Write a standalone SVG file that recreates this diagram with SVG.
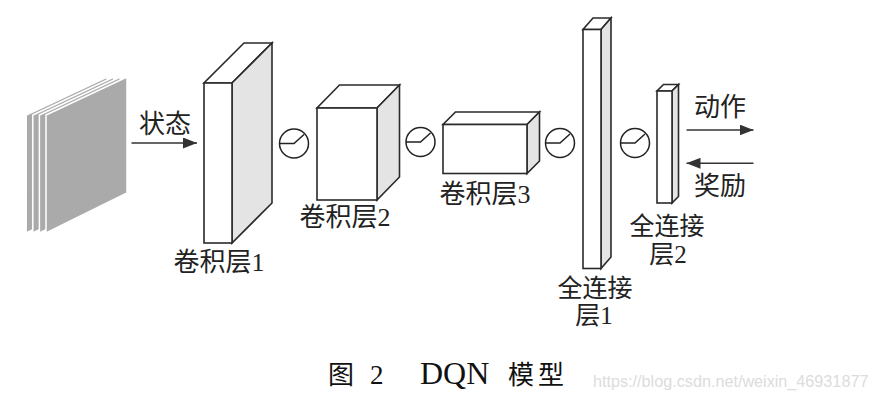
<svg xmlns="http://www.w3.org/2000/svg" width="877" height="403" viewBox="0 0 877 403">
<style>
.edge{fill:#fff;stroke:#2a2a2a;stroke-width:1.6;stroke-linejoin:miter}
.side{fill:#e4e4e4;stroke:#2a2a2a;stroke-width:1.6}
.sheet{fill:#aaaaaa;stroke:#fff;stroke-width:1.5}
.act{fill:none;stroke:#222;stroke-width:1.5}
.conn{stroke:#333;stroke-width:1.5;fill:none}
.lbl{font-family:"Liberation Serif","Noto Sans CJK SC",serif;font-size:26px;fill:#222;text-anchor:middle}
.fc{font-size:25px}
.cap{font-family:"Liberation Serif","Noto Sans CJK SC",serif;fill:#111}
.wm{font-family:"Liberation Sans",Arial,sans-serif;font-size:16.2px;fill:#dcdcdc}
</style>
<defs>
<marker id="ah" viewBox="0 0 14 11" refX="14" refY="5.5" markerWidth="14" markerHeight="11" markerUnits="userSpaceOnUse" orient="auto">
<path d="M0,0 L14,5.5 L0,11 Z" fill="#333"/>
</marker>
<polygon id="sh" points="46,115 127,77 127,193 46,233"/>
</defs>

<g id="state">
<use href="#sh" class="sheet" transform="translate(-19.8,0)"/>
<use href="#sh" class="sheet" transform="translate(-13.2,0)"/>
<use href="#sh" class="sheet" transform="translate(-6.6,0)"/>
<use href="#sh" class="sheet"/>
</g>

<g id="conv1">
<polygon class="edge" points="204,83 232,83 272,43 244,43"/>
<polygon class="side" points="232,83 272,43 272,203 232,243"/>
<rect class="edge" x="204" y="83" width="28" height="160"/>
<text class="lbl" x="219" y="271">卷积层1</text>
</g>

<g id="act1">
<circle class="act" cx="294" cy="143.5" r="14.5"/>
<path class="act" d="M279.5,143.5 H294 L304,134.5"/>
</g>

<g id="conv2">
<polygon class="edge" points="317,108 377,108 399.5,85 339.5,85"/>
<polygon class="side" points="377,108 399.5,85 399.5,177 377,200"/>
<rect class="edge" x="317" y="108" width="60" height="92"/>
<text class="lbl" x="345" y="226">卷积层2</text>
</g>

<g id="act2">
<circle class="act" cx="420.5" cy="142" r="14.5"/>
<path class="act" d="M406,142 H420.5 L430.5,133"/>
</g>

<g id="conv3">
<polygon class="edge" points="443,124.5 527,124.5 539.5,112 455.5,112"/>
<polygon class="side" points="527,124.5 539.5,112 539.5,161 527,173.5"/>
<rect class="edge" x="443" y="124.5" width="84" height="49"/>
<text class="lbl" x="485" y="203">卷积层3</text>
</g>

<g id="act3">
<circle class="act" cx="560" cy="143" r="14.5"/>
<path class="act" d="M545.5,143 H560 L570,134"/>
</g>

<g id="fc1">
<polygon class="edge" points="583,29.5 601,29.5 611,18 593,18"/>
<polygon class="side" points="601,29.5 611,18 611,257 601,268.5"/>
<rect class="edge" x="583" y="29.5" width="18" height="239"/>
<text class="lbl fc" x="595" y="297">全连接</text>
<text class="lbl fc" x="594" y="324">层1</text>
</g>

<g id="act4">
<circle class="act" cx="635" cy="143" r="14.5"/>
<path class="act" d="M620.5,143 H635 L645,134"/>
</g>

<g id="fc2">
<polygon class="edge" points="657,91 672,91 678.5,84.5 663.5,84.5"/>
<polygon class="side" points="672,91 678.5,84.5 678.5,196.5 672,203"/>
<rect class="edge" x="657" y="91" width="15" height="112"/>
<text class="lbl fc" x="667" y="235">全连接</text>
<text class="lbl fc" x="668" y="263">层2</text>
</g>

<g id="connectors">
<line class="conn" x1="131.5" y1="143" x2="197" y2="143" marker-end="url(#ah)"/>
<line class="conn" x1="686.5" y1="130" x2="753.5" y2="130" marker-end="url(#ah)"/>
<line class="conn" x1="753.5" y1="163.3" x2="686.5" y2="163.3" marker-end="url(#ah)"/>
<text class="lbl" x="165" y="133">状态</text>
<text class="lbl" x="720" y="116">动作</text>
<text class="lbl" x="720" y="195">奖励</text>
</g>

<g id="caption">
<text class="cap" x="328" y="384" font-size="26">图</text>
<text class="cap" x="370" y="384" font-size="27">2</text>
<text class="cap" x="420" y="384" font-size="32">DQN</text>
<text class="cap" x="508" y="384" font-size="26" letter-spacing="4">模型</text>
<text class="wm" x="593" y="387">https://blog.csdn.net/weixin_46931877</text>
</g>
</svg>
